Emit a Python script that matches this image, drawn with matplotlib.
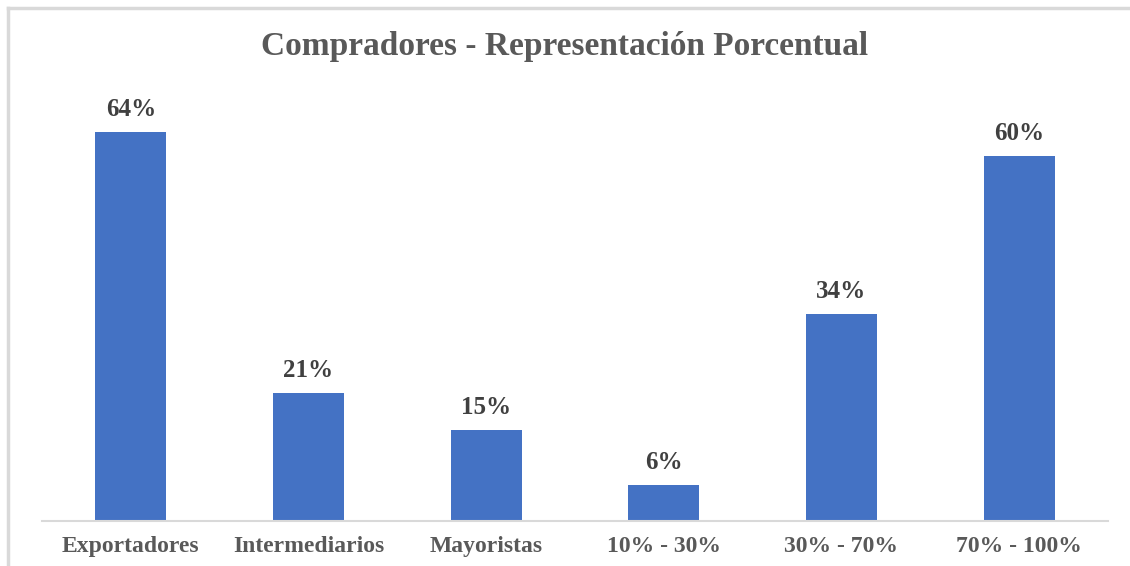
import matplotlib
matplotlib.use("Agg")
import matplotlib.pyplot as plt
from matplotlib.lines import Line2D

categorias = ["Exportadores", "Intermediarios", "Mayoristas", "10% - 30%", "30% - 70%", "70% - 100%"]
valores = [64, 21, 15, 6, 34, 60]

W, H = 1130, 566
fig = plt.figure(figsize=(W / 100, H / 100), dpi=100)
plt.rcParams["font.family"] = ["Liberation Serif", "DejaVu Serif"]

# axes: x 42..1108 px, baseline at y=521, 6.08 px per unit
left, right = 42 / W, 1108 / W
bottom = 1 - 521 / H
top_units = 70
top = 1 - (521 - top_units * 6.08) / H
ax = fig.add_axes([left, bottom, right - left, top - bottom])

x = range(len(categorias))
ax.bar(x, valores, width=0.4, color="#4472C4")
for i, v in zip(x, valores):
    ax.text(i, v + 1.8, f"{v}%", ha="center", va="bottom", fontsize=18,
            fontweight="bold", color="#404040")

ax.set_xlim(-0.5, len(categorias) - 0.5)
ax.set_ylim(0, top_units)
ax.set_yticks([])
ax.set_xticks(list(x))
ax.set_xticklabels(categorias, fontsize=17, fontweight="bold", color="#595959")
ax.tick_params(axis="x", length=0, pad=11)
for s in ["top", "right", "left"]:
    ax.spines[s].set_visible(False)
ax.spines["bottom"].set_color("#d9d9d9")
ax.spines["bottom"].set_linewidth(1.5)

fig.text(0.5, 1 - 46 / H, "Compradores - Representación Porcentual", ha="center", va="center",
         fontsize=24, fontweight="bold", color="#595959")

# outer frame of the chart (top and left edges)
fig.add_artist(Line2D([8 / W, 1], [1 - 8 / H, 1 - 8 / H], color="#d9d9d9", lw=2.5, transform=fig.transFigure))
fig.add_artist(Line2D([8 / W, 8 / W], [0, 1 - 8 / H], color="#d9d9d9", lw=2.5, transform=fig.transFigure))

fig.savefig("out.png", dpi=100)
